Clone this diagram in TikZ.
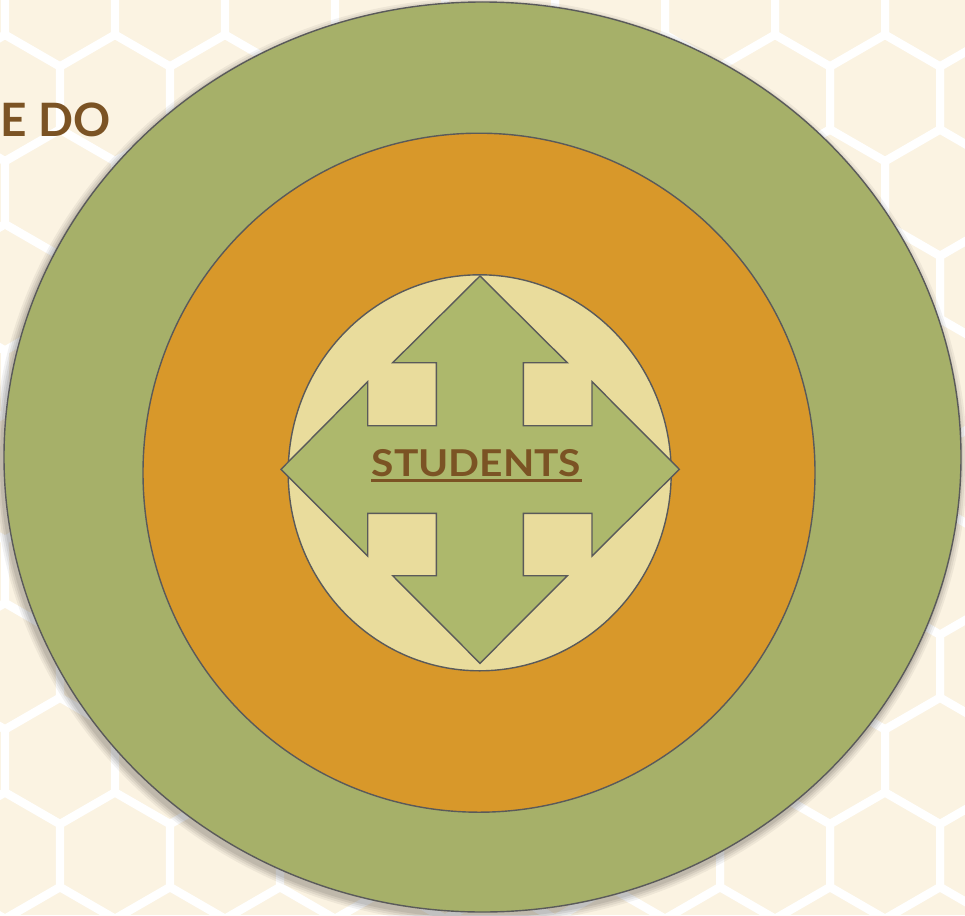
\documentclass[tikz,border=0pt]{standalone}
\usepackage{fontspec}
\setmainfont{Lato}
\usetikzlibrary{shapes.geometric}
\definecolor{bgcream}{HTML}{FBF3E2}
\definecolor{outergreen}{HTML}{A6B069}
\definecolor{midorange}{HTML}{D8982A}
\definecolor{innercream}{HTML}{E9DC9C}
\definecolor{arrowgreen}{HTML}{ADB86C}
\definecolor{textbrown}{HTML}{7B5324}
\definecolor{edgegrey}{HTML}{5A5A5A}
\tikzset{
  hexline/.style={draw=white, line width=8, line join=miter},
  ring/.style={draw=edgegrey, line width=1.4},
  label/.style={text=textbrown, font=\bfseries, inner sep=0pt}
}
\begin{document}
\begin{tikzpicture}[x=1pt,y=-1pt]
\useasboundingbox (0,0) rectangle (965,915);
\fill[bgcream] (0,0) rectangle (965,915);
% honeycomb
\begin{scope}
\clip (0,0) rectangle (965,915);
\foreach \n in {0,...,11}{
  \pgfmathsetmacro\cy{98+94.7*(\n-1)}
  \pgfmathsetmacro\xo{mod(\n,2)==1 ? 115 : 60}
  \foreach \k in {-1,...,9}{
    \pgfmathsetmacro\cx{\xo+110*\k}
    \draw[hexline] (\cx,\cy) +(30:63.5) -- +(90:63.5) -- +(150:63.5) -- +(210:63.5) -- +(270:63.5) -- +(330:63.5) -- cycle;
  }
}
\end{scope}
% soft shadow of outer disc
\foreach \d/\o in {8/0.05,6/0.06,4/0.07,2/0.08}{
  \fill[black, opacity=\o] (480.5,461) ellipse ({478.5+\d} and {455+\d});
}
% rings
\node[ring, ellipse, fill=outergreen, minimum width=957, minimum height=910, inner sep=0, outer sep=0] (outer) at (482.5,457) {};
\node[ring, ellipse, fill=midorange, minimum width=672, minimum height=679, inner sep=0, outer sep=0] (middle) at (479,472.7) {};
\node[ring, ellipse, fill=innercream, minimum width=383, minimum height=396, inner sep=0, outer sep=0] (inner) at (479.7,472.8) {};
% four-way arrow
\draw[draw=edgegrey, line width=1.4, fill=arrowgreen, line join=miter]
  (480,276) -- (567.3,362.7) -- (523.3,362.7) -- (523.3,425.7)
  -- (592,425.7) -- (592,381.7) -- (679.3,469.3) -- (592,556) -- (592,513.3)
  -- (523.3,513.3) -- (523.3,575.7) -- (567.3,575.7) -- (480,663.3)
  -- (392.7,575.7) -- (436.3,575.7) -- (436.3,513.3) -- (367.7,513.3)
  -- (367.7,556) -- (281,469.3) -- (367.7,381.7) -- (367.7,425.7)
  -- (436.3,425.7) -- (436.3,362.7) -- (392.7,362.7) -- cycle;
% labels
\node[label, font=\bfseries\fontsize{37}{40}\selectfont] (students) at (476.5,463) {\scalebox{1.1}[1]{STUDENTS}};
\draw[textbrown, line width=3] (371,480) -- (582,480);
\node[label, font=\bfseries\fontsize{46}{50}\selectfont, anchor=west] (whatwedo) at (0.5,120) {E DO};
\end{tikzpicture}
\end{document}
